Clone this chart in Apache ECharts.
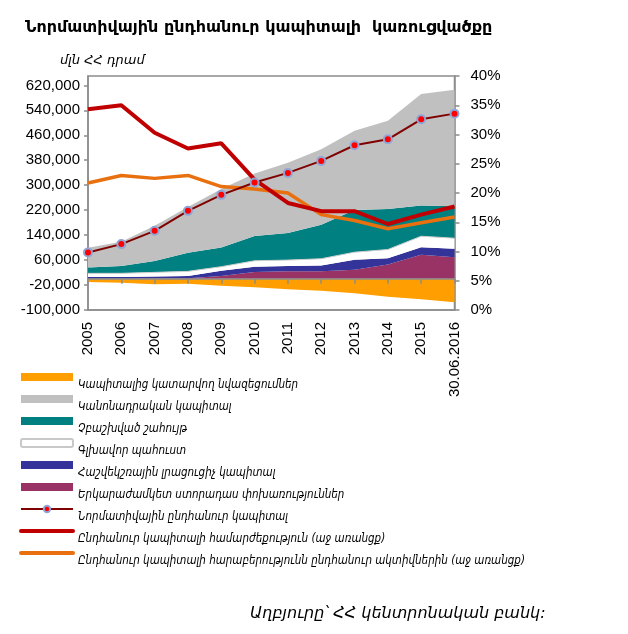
<!DOCTYPE html>
<html><head><meta charset="utf-8">
<script src="https://cdn.jsdelivr.net/npm/echarts@6.0.0/dist/echarts.min.js"></script>
<style>html,body{margin:0;padding:0;background:#fff}#c{width:628px;height:634px}</style>
</head><body><div id="c"></div><script>
const categories = ['2005','2006','2007','2008','2009','2010','2011','2012','2013','2014','2015','30.06.2016'];
const leftTicks = [-100000,-20000,60000,140000,220000,300000,380000,460000,540000,620000];
const rightTicks = [0,5,10,15,20,25,30,35,40];

const deductions   = [-10400,-12600,-17800,-15800,-22200,-27400,-33800,-38200,-46600,-57400,-65800,-75400];
const subordinated = [0,0,1000,2000,9000,21600,23800,23800,28800,45900,76800,69300];
const supplementary= [5600,5600,6200,6800,17000,17000,17000,19200,32000,20300,24500,26700];
const generalReserve=[11800,12000,13400,15000,12800,19200,19200,21300,24500,27700,35200,34100];
const retained     = [19200,23400,36200,59500,61800,79000,86400,108800,135500,130100,98100,102400];
const statutory    = [62700,77800,113000,147200,186900,200600,225900,242200,253800,282600,357400,373400];
const normative    = [84600,111200,153800,217800,269000,308600,339400,377800,428000,447200,511200,529400];
const adequacy     = [34.3,35.0,30.3,27.6,28.5,22.3,18.3,16.9,16.9,14.7,16.3,17.7];
const capToAssets  = [21.7,23.0,22.5,23.0,21.1,20.7,20.0,16.3,15.3,13.9,14.9,15.9];

const names = [
 'Կապիտալից կատարվող նվազեցումներ',
 'Կանոնադրական կապիտալ',
 'Չբաշխված շահույթ',
 'Գլխավոր պահուստ',
 'Հաշվեկշռային լրացուցիչ կապիտալ',
 'Երկարաժամկետ ստորադաս փոխառություններ',
 'Նորմատիվային ընդհանուր կապիտալ',
 'Ընդհանուր կապիտալի համարժեքություն (աջ առանցք)',
 'Ընդհանուր կապիտալի հարաբերությունն ընդհանուր ակտիվներին (աջ առանցք)'
];
const colors = ['#FF9E00','#C0C0C0','#008080','#FFFFFF','#333399','#993366','#800000','#C00000','#E8700F'];

const FONT_AM = 'DejaVu Sans';
const FONT_AM_C = '"DejaVu Sans Condensed", "DejaVu Sans"';
const FONT_N = 'Liberation Sans';

function area(i, data, stack, extra) {
  return Object.assign({
    name: names[i], type: 'line', data: data, stack: stack,
    symbol: 'none', showSymbol: false, z: 2,
    lineStyle: {width: 0, color: colors[i]},
    itemStyle: {color: colors[i]},
    areaStyle: {color: colors[i], opacity: 1}
  }, extra || {});
}

const series = [
  area(0, deductions, null),
  area(5, subordinated, 'pos'),
  area(4, supplementary, 'pos'),
  area(3, generalReserve, 'pos', {lineStyle: {width: 1, color: '#CFCFCF'}}),
  area(2, retained, 'pos'),
  area(1, statutory, 'pos'),
  {name: names[8], type: 'line', data: capToAssets, yAxisIndex: 1, symbol: 'none', z: 4,
   lineStyle: {width: 3.5, color: colors[8]}, itemStyle: {color: colors[8]}},
  {name: names[7], type: 'line', data: adequacy, yAxisIndex: 1, symbol: 'none', z: 5,
   lineStyle: {width: 4, color: colors[7]}, itemStyle: {color: colors[7]}},
  {name: names[6], type: 'line', data: normative, symbol: 'circle', symbolSize: 8, z: 6,
   lineStyle: {width: 2, color: colors[6]},
   itemStyle: {color: '#FF0000', borderColor: '#8EA5D6', borderWidth: 2}}
];

const legendData = names.map((n, i) => {
  if (i < 6) {
    const it = {name: n, icon: i === 3 ? 'roundRect' : 'rect',
      itemStyle: {color: colors[i], borderWidth: 0}};
    if (i === 3) it.itemStyle = {color: '#FFFFFF', borderColor: '#C8C8C8', borderWidth: 2};
    return it;
  }
  if (i === 6) return {name: n, lineStyle: {width: 2, color: colors[6]},
    itemStyle: {color: '#FF0000', borderColor: '#8EA5D6', borderWidth: 2}};
  return {name: n, itemStyle: {opacity: 0},
    lineStyle: {width: 4, color: colors[i], cap: 'round'}};
});

const chart = echarts.init(document.getElementById('c'));
chart.setOption({
  animation: false,
  backgroundColor: '#fff',
  title: [
    {text: 'Նորմատիվային ընդհանուր կապիտալի  կառուցվածքը', left: 20, top: 15,
     textStyle: {fontFamily: FONT_AM, fontSize: 16, fontWeight: 'bold', color: '#000'}},
    {text: 'մլն ՀՀ դրամ', left: 55, top: 49,
     textStyle: {fontFamily: FONT_AM, fontSize: 13, fontStyle: 'italic', fontWeight: 'normal', color: '#000'}},
    {text: 'Աղբյուրը՝ ՀՀ կենտրոնական բանկ:', left: 245, top: 601,
     textStyle: {fontFamily: FONT_AM, fontSize: 16, fontStyle: 'italic', fontWeight: 'normal', color: '#000'}}
  ],
  legend: {
    orient: 'vertical', left: 19, top: 361, padding: 0, itemWidth: 52, itemHeight: 8, itemGap: -10,
    selectedMode: false, data: legendData,
    formatter: name => '\n' + name,
    textStyle: {fontFamily: FONT_AM_C, fontSize: 11.5, fontStyle: 'italic', color: '#000', lineHeight: 16}
  },
  grid: {left: 88, right: 173.5, top: 76, bottom: 324, show: true,
    borderColor: '#8C8C8C', borderWidth: 1.5, backgroundColor: 'transparent'},
  xAxis: [
    {type: 'category', data: categories, boundaryGap: false, position: 'bottom',
     axisLine: {onZero: false, lineStyle: {color: '#8C8C8C', width: 1.5}},
     axisTick: {show: false},
     axisLabel: {rotate: 90, margin: 12, fontFamily: FONT_N, fontSize: 15, color: '#000', interval: 0}},
    {type: 'category', data: categories, boundaryGap: false, position: 'bottom',
     axisLine: {onZero: true, lineStyle: {color: '#8C8C8C', width: 1.5}},
     axisTick: {show: true, length: 5, interval: 0, lineStyle: {color: '#8C8C8C', width: 1.5}},
     axisLabel: {show: false}, z: 10}
  ],
  yAxis: [
    {type: 'value', min: -100000, max: 650000, position: 'left',
     splitLine: {show: false},
     axisLine: {show: true, lineStyle: {color: '#8C8C8C', width: 1.5}},
     axisTick: {show: true, length: 4, customValues: leftTicks, lineStyle: {color: '#8C8C8C', width: 1.5}},
     axisLabel: {customValues: leftTicks, margin: 8, fontFamily: FONT_N, fontSize: 15, color: '#000',
       formatter: v => v.toLocaleString('en-US')}},
    {type: 'value', min: 0, max: 40, interval: 5, position: 'right',
     splitLine: {show: false},
     axisLine: {show: true, lineStyle: {color: '#8C8C8C', width: 1.5}},
     axisTick: {show: true, length: 5, customValues: rightTicks, lineStyle: {color: '#8C8C8C', width: 1.5}},
     axisLabel: {customValues: rightTicks, margin: 16, fontFamily: FONT_N, fontSize: 15, color: '#000', formatter: '{value}%'}}
  ],
  series: series
});
</script></body></html>
